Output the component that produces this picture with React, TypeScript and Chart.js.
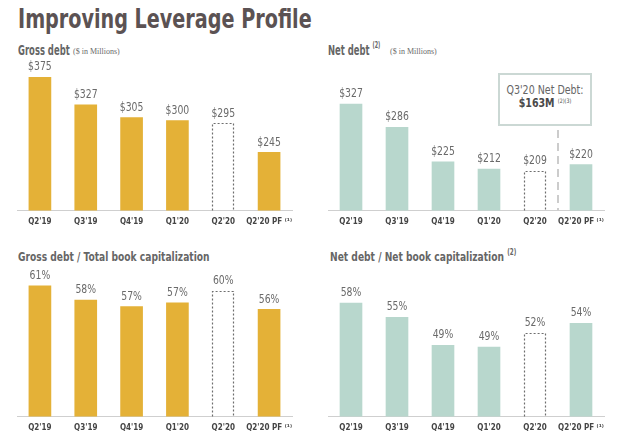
import React, { useEffect, useRef } from "react";
import { Chart, registerables } from "chart.js";
Chart.register(...registerables);

const categories = ["Q2'19", "Q3'19", "Q4'19", "Q1'20", "Q2'20", "Q2'20 PF ⁽¹⁾"];
const grossDebt = [375, 327, 305, 300, 295, 245];
const netDebt = [327, 286, 225, 212, 209, 220];
const grossDebtToCap = [61, 58, 56.6, 57.4, 60, 56];
const netDebtToCap = [58, 55, 49, 48.6, 51.6, 53.7];
const projected = [false, false, false, false, true, false];

const GOLD = "#E4B137";
const TEAL = "#B8D7CD";
const NARROW = "'DejaVu Sans Condensed', 'DejaVu Sans', sans-serif";

const dollar = (v: number) => "$" + Math.round(v);
const pct = (v: number) => Math.round(v) + "%";

function makeLabelPlugin(fmt: (v: number) => string) {
  return {
    id: "valueLabels",
    afterDatasetsDraw(chart: any) {
      const ctx = chart.ctx;
      const meta = chart.getDatasetMeta(0);
      const data = chart.data.datasets[0].data as number[];
      meta.data.forEach((el: any, i: number) => {
        ctx.save();
        ctx.font = "12px " + NARROW;
        ctx.fillStyle = "#6a6a6a";
        ctx.textAlign = "center";
        ctx.textBaseline = "bottom";
        ctx.translate(el.x, el.y - 4);
        ctx.scale(0.86, 1);
        ctx.fillText(fmt(data[i]), 0, 0);
        ctx.restore();
      });
    },
  };
}

const dashedPlugin = {
  id: "dashedBars",
  afterDatasetsDraw(chart: any) {
    const ctx = chart.ctx;
    const meta = chart.getDatasetMeta(0);
    ctx.save();
    ctx.strokeStyle = "#6e6e6e";
    ctx.lineWidth = 1.2;
    ctx.setLineDash([2, 2]);
    meta.data.forEach((el: any, i: number) => {
      if (!projected[i]) return;
      const x0 = Math.round(el.x - el.width / 2) + 0.5;
      const x1 = Math.round(el.x + el.width / 2) - 0.5;
      const y0 = Math.round(el.y) + 0.5;
      const y1 = Math.min(el.base, chart.chartArea.bottom);
      ctx.beginPath();
      ctx.moveTo(x0, y1);
      ctx.lineTo(x0, y0);
      ctx.lineTo(x1, y0);
      ctx.lineTo(x1, y1);
      ctx.stroke();
    });
    ctx.restore();
  },
};

const dividerPlugin = {
  id: "divider",
  afterDatasetsDraw(chart: any) {
    const ctx = chart.ctx;
    const x = chart.scales.x.getPixelForValue(4.5);
    ctx.save();
    ctx.strokeStyle = "#cccccc";
    ctx.lineWidth = 2;
    ctx.setLineDash([8, 5]);
    ctx.beginPath();
    ctx.moveTo(x, 60);
    ctx.lineTo(x, chart.chartArea.bottom);
    ctx.stroke();
    ctx.restore();
  },
};

type Props = {
  left: number;
  top: number;
  width: number;
  height: number;
  values: number[];
  color: string;
  min: number;
  max: number;
  pad: { top: number; left: number; right: number; bottom: number };
  fmt: (v: number) => string;
  divider?: boolean;
};

function BarChart(p: Props) {
  const ref = useRef<HTMLCanvasElement>(null);
  useEffect(() => {
    const plugins: any[] = [makeLabelPlugin(p.fmt), dashedPlugin];
    if (p.divider) plugins.push(dividerPlugin);
    const chart = new Chart(ref.current!, {
      type: "bar",
      data: {
        labels: categories,
        datasets: [
          {
            data: p.values,
            backgroundColor: p.values.map((_, i) => (projected[i] ? "rgba(0,0,0,0)" : p.color)),
            borderWidth: 0,
            barThickness: 22,
          },
        ],
      },
      options: {
        responsive: false,
        maintainAspectRatio: false,
        animation: false,
        layout: { padding: p.pad },
        plugins: { legend: { display: false }, tooltip: { enabled: false } },
        scales: {
          x: {
            grid: { display: false, drawTicks: false },
            border: { display: true, color: "#cfcfcf", width: 1 },
            ticks: {
              color: "#454545",
              font: { family: NARROW, size: 8, weight: "bold" },
              padding: 7,
              maxRotation: 0,
              autoSkip: false,
            },
          },
          y: { display: false, min: p.min, max: p.max },
        },
      },
      plugins,
    } as any);
    return () => chart.destroy();
  }, []);
  return (
    <canvas
      ref={ref}
      width={p.width}
      height={p.height}
      style={{ position: "absolute", left: p.left, top: p.top, width: p.width, height: p.height }}
    />
  );
}

const headStyle: React.CSSProperties = {
  position: "absolute",
  fontFamily: NARROW,
  fontWeight: "bold",
  color: "#666666",
  whiteSpace: "nowrap",
  transformOrigin: "left center",
};
const smallSerif: React.CSSProperties = {
  position: "absolute",
  fontFamily: "'Liberation Serif', serif",
  fontWeight: "normal",
  fontSize: 8,
  lineHeight: "10px",
  color: "#6a6a6a",
  whiteSpace: "nowrap",
};
const supStyle: React.CSSProperties = {
  fontSize: 8,
  verticalAlign: "top",
  lineHeight: "10px",
  position: "relative",
  top: -1,
};

export default function App() {
  return (
    <div style={{ position: "absolute", left: 0, top: 0, width: 625, height: 444, background: "#fff", overflow: "hidden" }}>
      <div
        style={{
          position: "absolute",
          left: 18,
          top: 3,
          fontFamily: NARROW,
          fontWeight: "bold",
          fontSize: 26,
          lineHeight: "32px",
          color: "#5b5253",
          whiteSpace: "nowrap",
          transform: "scaleX(0.82)",
          transformOrigin: "left center",
        }}
      >
        Improving Leverage Profile
      </div>
      <div style={{ ...headStyle, left: 18, top: 42, fontSize: 14, lineHeight: "17px", transform: "scaleX(0.67)" }}>
        Gross debt
      </div>
      <div style={{ ...smallSerif, left: 73, top: 47 }}>($ in Millions)</div>
      <div style={{ ...headStyle, left: 328, top: 42, fontSize: 14, lineHeight: "17px", transform: "scaleX(0.67)" }}>
        Net debt <span style={supStyle}>(2)</span>
      </div>
      <div style={{ ...smallSerif, left: 390, top: 47 }}>($ in Millions)</div>
      <div style={{ ...headStyle, left: 18, top: 249, fontSize: 13, lineHeight: "16px", transform: "scaleX(0.78)" }}>
        Gross debt / Total book capitalization
      </div>
      <div style={{ ...headStyle, left: 330, top: 249, fontSize: 13, lineHeight: "16px", transform: "scaleX(0.78)" }}>
        Net debt / Net book capitalization <span style={supStyle}>(2)</span>
      </div>

      <BarChart left={0} top={57} width={310} height={180} values={grossDebt} color={GOLD} min={145} max={375}
        pad={{ top: 20, left: 17, right: 18, bottom: 3 }} fmt={dollar} />
      <BarChart left={310} top={57} width={315} height={180} values={netDebt} color={TEAL} min={139} max={375}
        pad={{ top: 20, left: 18, right: 21, bottom: 3 }} fmt={dollar} divider />
      <BarChart left={0} top={262} width={310} height={181} values={grossDebtToCap} color={GOLD} min={33.2} max={62.9}
        pad={{ top: 15, left: 17, right: 18, bottom: 3 }} fmt={pct} />
      <BarChart left={310} top={262} width={315} height={181} values={netDebtToCap} color={TEAL} min={33.8} max={63.6}
        pad={{ top: 15, left: 18, right: 21, bottom: 3 }} fmt={pct} />

      <div
        style={{
          position: "absolute",
          left: 498,
          top: 73,
          width: 90,
          height: 40,
          border: "2px solid #cbd8d4",
          background: "#fff",
          textAlign: "center",
          fontFamily: NARROW,
          color: "#666",
          fontSize: 12,
          lineHeight: "13px",
          paddingTop: 9,
          boxSizing: "content-box",
        }}
      >
        <div style={{ transform: "scaleX(0.88)" }}>Q3'20 Net Debt:</div>
        <div style={{ fontWeight: "bold", color: "#4a4a4a", transform: "scaleX(0.88)" }}>
          $163M <span style={{ fontSize: 6, fontWeight: "normal", verticalAlign: "top", lineHeight: "8px" }}>(2)(3)</span>
        </div>
      </div>
    </div>
  );
}
